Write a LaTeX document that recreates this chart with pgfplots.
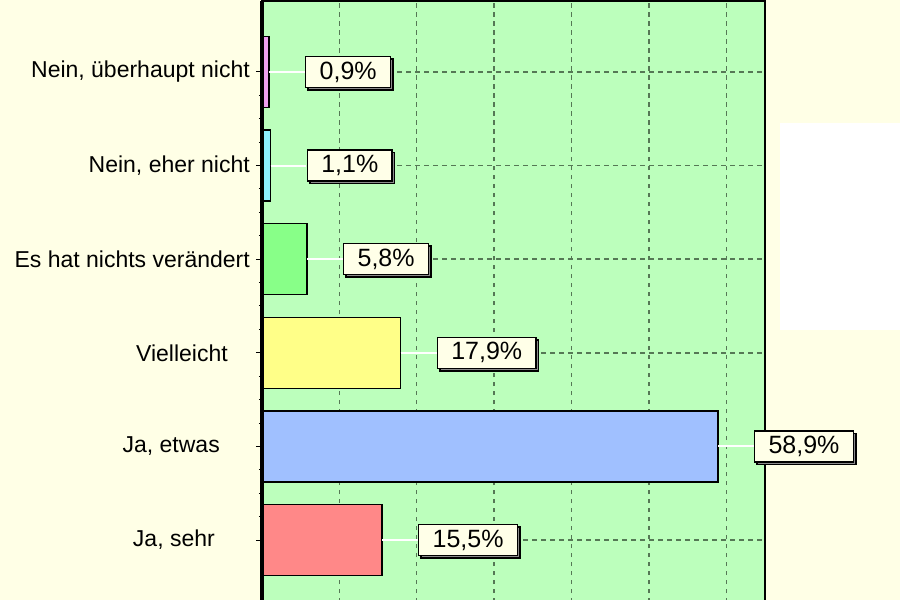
\documentclass[border=0pt]{standalone}
\usepackage{pgfplots}
\pgfplotsset{compat=1.18}
\usepackage{fontspec}
\setmainfont{Liberation Sans}
\usetikzlibrary{shadows}
\definecolor{cream}{RGB}{255,255,230}
\definecolor{plotgreen}{RGB}{188,255,188}
\definecolor{gridc}{RGB}{85,120,85}
\definecolor{bpink}{RGB}{240,160,240}
\definecolor{bcyan}{RGB}{140,240,255}
\definecolor{bgreen}{RGB}{136,255,136}
\definecolor{byellow}{RGB}{255,255,136}
\definecolor{bblue}{RGB}{160,192,255}
\definecolor{bsalmon}{RGB}{255,136,136}
\definecolor{lblfill}{RGB}{255,255,232}
\begin{document}
\begin{tikzpicture}
\useasboundingbox (0,0) rectangle (900pt,600pt);
\fill[cream] (0,0) rectangle (900pt,600pt);
\fill[white] (780pt,270pt) rectangle (900pt,477pt);
\begin{scope}
\clip (0,0) rectangle (900pt,600pt);
\begin{axis}[
  at={(262pt,599pt)}, anchor=north west,
  scale only axis, width=503pt, height=610pt,
  xmin=0, xmax=65, ymin=-0.7585, ymax=5.7585,
  axis background/.style={fill=plotgreen},
  axis line style={line width=1.5pt, black},
  xtick={10,20,30,40,50,60}, xticklabels={},
  major x tick style={draw=none},
  ytick={0,1,2,3,4,5},
  yticklabels={{Ja, sehr\hspace*{35pt}},{Ja, etwas\hspace*{30pt}},{Vielleicht\hspace*{22pt}},{Es hat nichts verändert},{Nein, eher nicht},{Nein, überhaupt nicht}},
  ytick pos=left, tick align=outside,
  minor y tick num=3,
  major tick length=6pt, minor tick length=3pt,
  y tick style={black, line width=1pt},
  yticklabel style={font=\fontsize{23}{26}\selectfont, anchor=east, inner sep=0pt, xshift=-6pt},
  xmajorgrids, ymajorgrids,
  major grid style={gridc, line width=1.4pt, dash pattern=on 4.5pt off 4.5pt},
  xbar, bar shift=0pt, bar width=71pt,
  clip=false,
  point meta=explicit symbolic,
  nodes near coords={\pgfplotspointmeta},
  every node near coord/.style={anchor=west, xshift=36pt, draw=black, line width=1.5pt,
     fill=lblfill, text=black, font=\fontsize{25}{28}\selectfont,
     inner xsep=14pt, inner ysep=0pt, minimum height=31pt,
     drop shadow={shadow xshift=2.5pt, shadow yshift=-2.5pt, fill=black!45, opacity=1}},
  error bars/x dir=plus, error bars/x fixed=4.65,
  error bars/error mark=none,
  error bars/error bar style={white, line width=2pt},
]
\addplot[fill=bsalmon, draw=black, line width=1.5pt] coordinates {(15.5,0) [15,5\%]};
\addplot[fill=bblue, draw=black, line width=1.5pt] coordinates {(58.9,1) [58,9\%]};
\addplot[fill=byellow, draw=black, line width=1.5pt] coordinates {(17.9,2) [17,9\%]};
\addplot[fill=bgreen, draw=black, line width=1.5pt] coordinates {(5.8,3) [5,8\%]};
\addplot[fill=bcyan, draw=black, line width=1.5pt] coordinates {(1.1,4) [1,1\%]};
\addplot[fill=bpink, draw=black, line width=1.5pt] coordinates {(0.9,5) [0,9\%]};
\draw[line width=3.5pt, black] (rel axis cs:0,0) -- (rel axis cs:0,1);
\end{axis}
\end{scope}
\end{tikzpicture}
\end{document}
